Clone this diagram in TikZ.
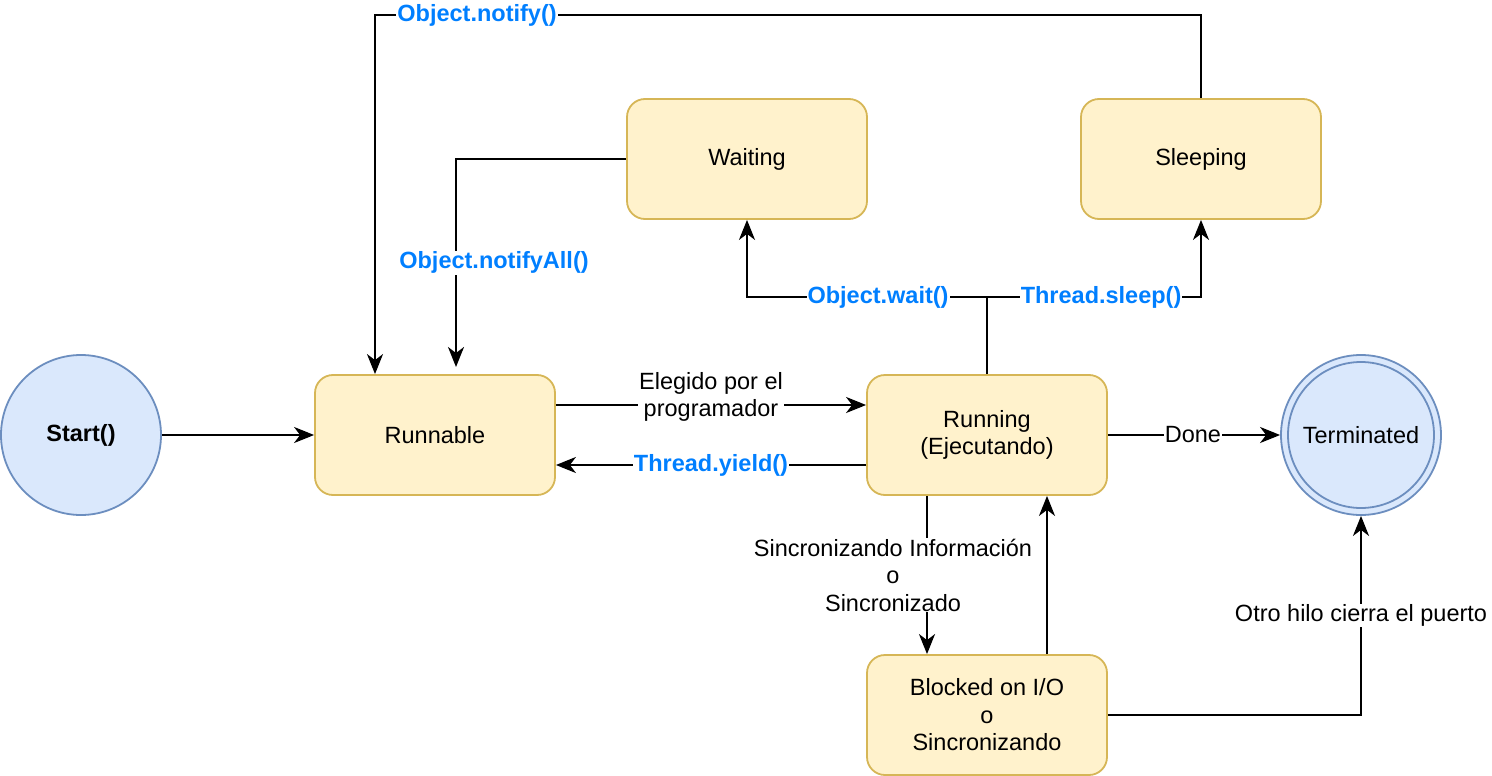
\documentclass[tikz,border=0pt]{standalone}
\usepackage{fontspec}
\setmainfont{Liberation Sans}
\usetikzlibrary{arrows.meta}
\definecolor{yfill}{HTML}{FFF2CC}
\definecolor{ydraw}{HTML}{D6B656}
\definecolor{bfill}{HTML}{DAE8FC}
\definecolor{bdraw}{HTML}{6C8EBF}
\definecolor{lblue}{HTML}{007FFF}
\newcommand{\bigtxt}{\fontsize{23.5}{27.5}\selectfont}
\tikzset{
  state/.style={draw=ydraw, fill=yfill, line width=1.8pt, rounded corners=18pt,
    minimum width=240pt, minimum height=120pt, align=center, font=\bigtxt},
  circ/.style={circle, draw=bdraw, fill=bfill, line width=1.8pt, minimum size=160pt, inner sep=0pt,
    font=\bigtxt},
  conn/.style={line width=2.2pt, -{Stealth[length=20pt,width=16pt,inset=6pt]}},
  plain/.style={line width=2.2pt},
  lbl/.style={fill=white, inner sep=1pt, align=center, font=\bigtxt},
  blbl/.style={fill=white, inner sep=1pt, text=lblue, font=\bfseries\bigtxt},
}
\begin{document}
\begin{tikzpicture}[x=1pt,y=-1pt]
\useasboundingbox (0,0) rectangle (1492,776);
\node[circ, font=\bfseries\bigtxt] (start) at (81,435) {Start()};
\node[state] (runnable) at (435,435) {Runnable};
\node[state] (running) at (987,435) {Running\\(Ejecutando)};
\node[state] (waiting) at (747,159) {Waiting};
\node[state] (sleeping) at (1201,159) {Sleeping};
\node[state] (blocked) at (987,715) {Blocked on I/O\\o\\Sincronizando};
\node[circle, draw=bdraw, fill=bfill, line width=1.8pt, minimum size=160pt, inner sep=0pt] (term) at (1361,435) {};
\node[circle, draw=bdraw, line width=1.8pt, minimum size=146pt, inner sep=0pt, font=\bigtxt] (termin) at (1361,435) {Terminated};

\coordinate (rtop) at (running.north);
\coordinate (j) at (987,297);
\coordinate (wl) at (747,297);
\coordinate (sl) at (1201,297);
\coordinate (na1) at (456,159);
\coordinate (na2) at (456,367);
\coordinate (n1) at (1201,15);
\coordinate (n2) at (375,15);
\coordinate (bt) at (1361,715);

\draw[conn] (start) -- (runnable);
\draw[conn] ([yshift=30pt]runnable.east) -- node[lbl, yshift=8pt]{Elegido por el\\programador} ([yshift=30pt]running.west);
\draw[conn] ([yshift=-30pt]running.west) -- node[blbl]{Thread.yield()} ([yshift=-30pt]runnable.east);
\draw[conn] (running.east) -- node[lbl, pos=0.494]{Done} (term.west);
\draw[plain] (rtop) -- (j);
\draw[conn] (j) -- node[blbl, pos=0.454]{Object.wait()} (wl) -- (waiting.south);
\draw[conn] (j) -- node[blbl, pos=0.533]{Thread.sleep()} (sl) -- (sleeping.south);
\draw[conn] (waiting.west) -- (na1) -- node[blbl, pos=0.49, xshift=38pt, yshift=-2pt]{Object.notifyAll()} (na2);
\draw[conn] (sleeping.north) -- (n1) -- node[blbl, pos=0.8765]{Object.notify()} (n2) -- ([xshift=-60pt]runnable.north);
\draw[conn] ([xshift=-60pt]running.south) -- node[lbl, pos=0.5, xshift=-34pt]{Sincronizando Información\\o\\Sincronizado} ([xshift=-60pt]blocked.north);
\draw[conn] ([xshift=60pt]blocked.north) -- ([xshift=60pt]running.south);
\draw[conn] (blocked.east) -- (bt) -- node[lbl, pos=0.5]{Otro hilo cierra el puerto} (term.south);
\end{tikzpicture}
\end{document}
